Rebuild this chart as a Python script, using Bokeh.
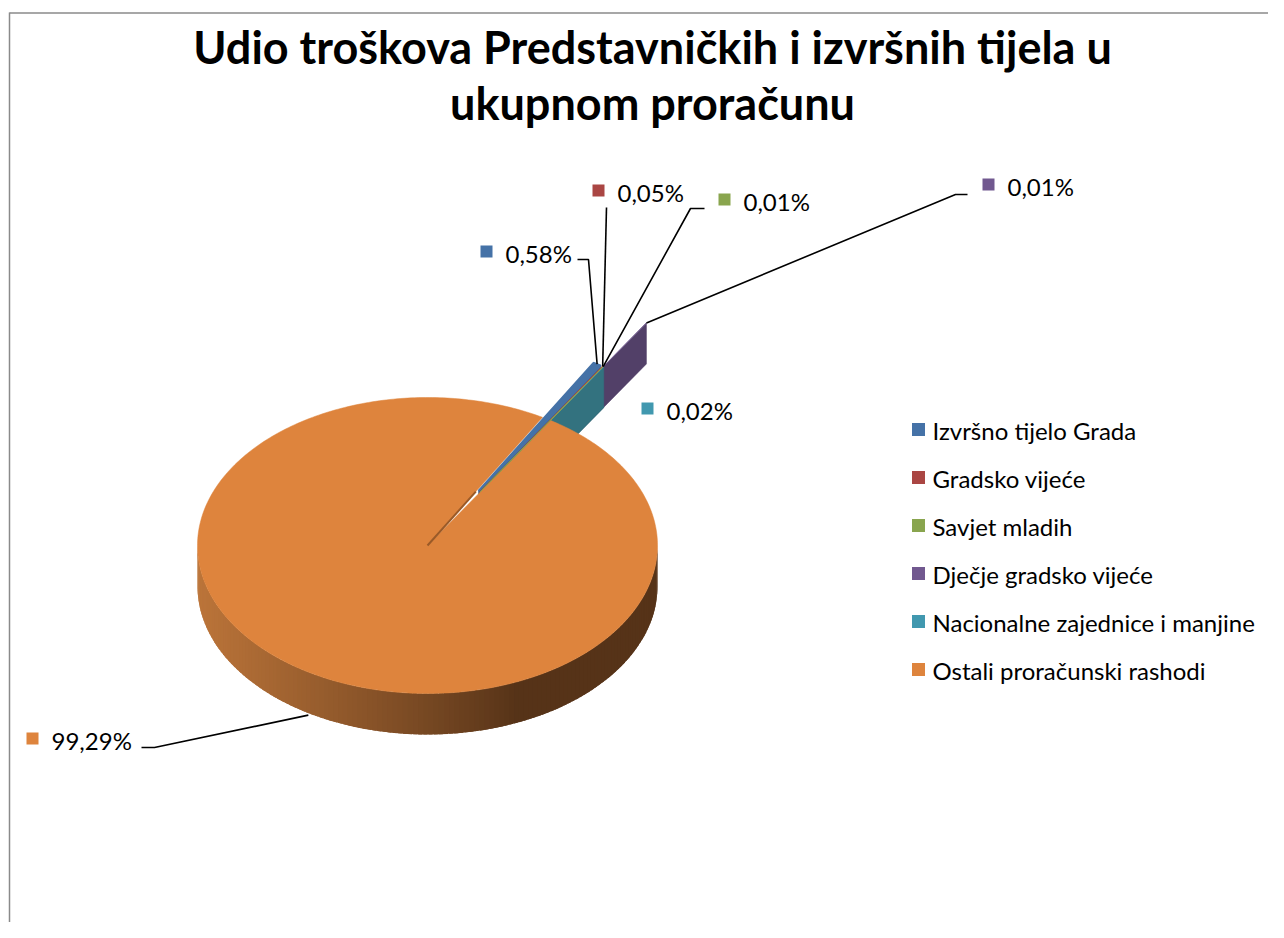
import numpy as np
from bokeh.plotting import figure
from bokeh.models import Range1d
from bokeh.core.properties import value
from bokeh.embed import file_html
from bokeh.resources import INLINE

# ---------------- data ----------------
categories = ["Izvršno tijelo Grada", "Gradsko vijeće", "Savjet mladih",
              "Dječje gradsko vijeće", "Nacionalne zajednice i manjine",
              "Ostali proračunski rashodi"]
values = [0.58, 0.05, 0.01, 0.01, 0.02, 99.29]
value_labels = ["0,58%", "0,05%", "0,01%", "0,01%", "0,02%", "99,29%"]
colors = ["#4572A7", "#AA4643", "#89A54E", "#71588F", "#4198AF", "#DE843D"]
title_lines = ["Udio troškova Predstavničkih i izvršnih tijela u", "ukupnom proračunu"]

# ---------------- style / layout ----------------
W, H = 1268, 922
FONT = "Lato"
CX, CY, RX, RY, DEPTH = 427.0, 545.0, 230.0, 148.0, 41.0
START = 30.0                       # first slice angle, degrees clockwise from top
explode = [0.43, 0.43, 0.43, 0.78, 0.43, 0.0]
wall_colors = ["#3A5F8C", "#8C3A38", "#718A40", "#524068", "#33727F", "#A8642E"]

# label positions (marker centre) and leader paths
label_pos = [(486, 251), (598, 190), (724, 199), (988, 184), (647, 408), (32, 738)]
leader_knee = [[(577, 259), (588, 259)], [(606, 207)], [(704, 208), (690, 208)],
               [(967, 194), (955, 194)], None, [(141, 747), (154, 747)]]

p = figure(width=W, height=H, output_backend="svg", toolbar_location=None,
           x_range=Range1d(0, W), y_range=Range1d(H, 0),
           x_axis_type=None, y_axis_type=None, min_border=0)
p.outline_line_color = None
p.grid.visible = False
p.background_fill_color = "white"
p.border_fill_color = "white"

total = sum(values)
fracs = [v / total for v in values]
starts, ends = [], []
a = START
for f in fracs:
    starts.append(a)
    a += f * 360.0
    ends.append(a)
mids = [(s + e) / 2 for s, e in zip(starts, ends)]


def dirv(phi):
    r = np.radians(phi)
    return np.array([np.sin(r) * RX, -np.cos(r) * RY])


def shift(i):
    return dirv(mids[i]) * explode[i]


def pt(i, phi, r, z=0.0):
    v = np.array([CX, CY]) + shift(i) + dirv(phi) * r
    return v[0], v[1] + z


def wall(i, phi):
    a0 = pt(i, phi, 0.0)
    a1 = pt(i, phi, 1.0)
    b1 = pt(i, phi, 1.0, DEPTH)
    b0 = pt(i, phi, 0.0, DEPTH)
    return [a0[0], a1[0], b1[0], b0[0]], [a0[1], a1[1], b1[1], b0[1]]


def top_face(i, n=60):
    phis = np.linspace(starts[i], ends[i], n)
    xs, ys = [], []
    c = pt(i, 0, 0.0)
    xs.append(c[0]); ys.append(c[1])
    for ph in phis:
        q = pt(i, ph, 1.0)
        xs.append(q[0]); ys.append(q[1])
    return xs, ys


# ---- small exploded slices: walls (drawn behind the main slice) ----
for i in [0, 1, 2, 3, 4]:
    xs, ys = wall(i, ends[i])
    p.patch(xs, ys, fill_color=wall_colors[i], line_color=wall_colors[i], line_width=0.5)
for i in [3, 4]:
    xs, ys = top_face(i)
    p.patch(xs, ys, fill_color=colors[i], line_color=colors[i], line_width=0.5)

# ---- main slice side (front half) with shading ----
big = 5
n = 140
phis = np.linspace(90, 270, n + 1)
step = phis[1] - phis[0]
c0 = np.array([188, 117, 58])
c1 = np.array([86, 51, 24])
sx, sy, sc = [], [], []
for k in range(n):
    p0, p1 = phis[k], min(phis[k + 1] + step * 0.8, 270)
    a0 = pt(big, p0, 1.0); a1 = pt(big, p1, 1.0)
    sx.append([a0[0], a1[0], a1[0], a0[0]])
    sy.append([a0[1], a1[1], a1[1] + DEPTH, a0[1] + DEPTH])
    xm = (a0[0] + a1[0]) / 2
    t = min(max((CX + RX - xm) / (2 * RX), 0), 1)   # 0 at right, 1 at left
    t = min(1.0, max(0.0, (t - 0.3) / 0.7)) ** 0.9
    col = c1 + (c0 - c1) * t
    sc.append("#%02x%02x%02x" % tuple(int(v) for v in col))
order = list(range(n))[::-1]
p.patches([sx[k] for k in order], [sy[k] for k in order],
          fill_color=[sc[k] for k in order], line_color=None)

# ---- main slice top ----
xs, ys = top_face(big, 400)
p.patch(xs, ys, fill_color=colors[big], line_color=colors[big], line_width=0.5)
# dark cut edge of the main slice
e0 = pt(big, ends[big], 0.0); e1 = pt(big, ends[big], 0.42)
p.line([e0[0], e1[0]], [e0[1], e1[1]], line_color="#9A5A28", line_width=2)

# ---- small slices: top faces of blue, red, green ----
for i in [0, 1, 2]:
    xs, ys = top_face(i)
    p.patch(xs, ys, fill_color=colors[i], line_color=colors[i], line_width=2 if i == 0 else 1)

# ---- leader lines ----
anchors = [pt(0, mids[0], 1.0), pt(1, mids[1], 1.0), pt(2, mids[2], 1.0),
           pt(3, ends[3], 1.0), None, pt(5, mids[5], 1.0, DEPTH * 1.05)]
lx, ly = [], []
for i in range(len(values)):
    if leader_knee[i] is None:
        continue
    path = leader_knee[i] + [anchors[i]]
    lx.append([q[0] for q in path]); ly.append([q[1] for q in path])
p.multi_line(lx, ly, line_color="black", line_width=1.6)

# ---- data labels ----
mx = [q[0] for q in label_pos]; my = [q[1] for q in label_pos]
p.rect(mx, my, width=12, height=12, fill_color=colors, line_color=None)
p.text([q[0] + 19 for q in label_pos], [q[1] + 2 for q in label_pos], text=value_labels,
       text_font=value(FONT), text_font_size=value("24px"), text_color="black",
       text_baseline="middle", text_align="left")

# ---- legend ----
leg_y = [429 + 48 * k for k in range(len(categories))]
p.rect([918] * len(categories), leg_y, width=13, height=13, fill_color=colors, line_color=None)
p.text([932] * len(categories), [y + 1 for y in leg_y], text=categories,
       text_font=value(FONT), text_font_size=value("24px"), text_color="black",
       text_baseline="middle", text_align="left")

# ---- title ----
p.text([652, 652], [46, 102], text=title_lines, text_font=value(FONT),
       text_font_size=value("45px"), text_font_style="bold", text_color="black",
       text_baseline="middle", text_align="center")

# ---- chart border (left & top visible) ----
p.multi_line([[9, 9], [9, W]], [[12, H], [12.5, 12.5]], line_color="#8A8A8A", line_width=1.5)

open("out.html", "w").write(file_html(p, INLINE))
